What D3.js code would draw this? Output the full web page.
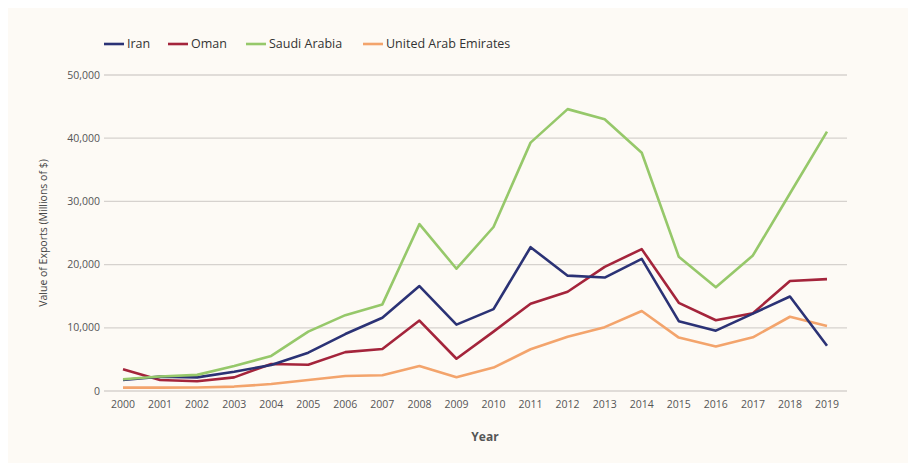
<!DOCTYPE html>
<html>
<head>
<meta charset="utf-8">
<script src="https://cdn.jsdelivr.net/npm/d3@7"></script>
<style>
  body { margin: 0; background: #ffffff; }
  svg { display: block; font-family: "Open Sans", "Lato", sans-serif; }
</style>
</head>
<body>
<svg id="chart" width="908" height="463"></svg>
<script>
var years = d3.range(2000, 2020);
var yTicks = [0, 10000, 20000, 30000, 40000, 50000];

var iran = [1750, 2270, 2160, 3060, 4110, 6060, 9010, 11600, 16600, 10500,
            12950, 22750, 18250, 17950, 20900, 11050, 9550, 12250, 14950, 7150];
var oman = [3430, 1750, 1550, 2160, 4270, 4160, 6150, 6650, 11150, 5100,
            9400, 13800, 15700, 19650, 22450, 13950, 11200, 12300, 17400, 17700];
var saudi = [1850, 2300, 2550, 3950, 5550, 9400, 12000, 13700, 26400, 19350,
             25950, 39300, 44600, 43000, 37700, 21250, 16400, 21450, 31250, 41050];
var uae = [530, 540, 560, 700, 1100, 1750, 2380, 2500, 3950, 2180,
           3700, 6600, 8600, 10100, 12650, 8450, 7050, 8500, 11750, 10300];

var series = [
  { name: "Iran", values: iran, color: "#2b3275" },
  { name: "Oman", values: oman, color: "#a4243b" },
  { name: "Saudi Arabia", values: saudi, color: "#96c86a" },
  { name: "United Arab Emirates", values: uae, color: "#f3a46c" }
];

var svg = d3.select("#chart");

// cream panel
svg.append("rect")
  .attr("x", 8).attr("y", 8)
  .attr("width", 900).attr("height", 455)
  .attr("fill", "#fdfaf5");

var x = d3.scaleLinear().domain([2000, 2019]).range([123, 827]);
var y = d3.scaleLinear().domain([0, 50000]).range([391, 75]);

// grid + y labels
var grid = svg.append("g");
grid.selectAll("line")
  .data(yTicks)
  .enter().append("line")
  .attr("x1", 104).attr("x2", 847)
  .attr("y1", function(d) { return y(d); })
  .attr("y2", function(d) { return y(d); })
  .attr("stroke", "#d6d2ce")
  .attr("stroke-width", 1.3);

grid.selectAll("text")
  .data(yTicks)
  .enter().append("text")
  .attr("x", 100)
  .attr("y", function(d) { return y(d); })
  .attr("dy", "0.35em")
  .attr("text-anchor", "end")
  .attr("font-size", 10.5)
  .attr("fill", "#555")
  .text(function(d) { return d3.format(",")(d); });

// x labels
svg.append("g").selectAll("text")
  .data(years)
  .enter().append("text")
  .attr("x", function(d) { return x(d); })
  .attr("y", 408)
  .attr("text-anchor", "middle")
  .attr("font-size", 10.5)
  .attr("fill", "#555")
  .text(function(d) { return d; });

// axis titles
svg.append("text")
  .attr("x", 485).attr("y", 441)
  .attr("text-anchor", "middle")
  .attr("font-size", 12)
  .attr("font-weight", "bold")
  .attr("fill", "#555")
  .text("Year");

svg.append("text")
  .attr("transform", "translate(47,233) rotate(-90)")
  .attr("text-anchor", "middle")
  .attr("font-size", 10.5)
  .attr("fill", "#444")
  .text("Value of Exports (Millions of $)");

// lines
var line = d3.line()
  .x(function(d, i) { return x(years[i]); })
  .y(function(d) { return y(d); });

svg.append("g").selectAll("path")
  .data([series[3], series[1], series[0], series[2]])
  .enter().append("path")
  .attr("d", function(s) { return line(s.values); })
  .attr("fill", "none")
  .attr("stroke", function(s) { return s.color; })
  .attr("stroke-width", 2.6)
  .attr("stroke-linejoin", "round");

// legend
var legendX = [104, 168, 246, 363];
var legend = svg.append("g").selectAll("g")
  .data(series)
  .enter().append("g")
  .attr("transform", function(d, i) { return "translate(" + legendX[i] + ",44)"; });

legend.append("line")
  .attr("x1", 0).attr("x2", 20)
  .attr("stroke", function(d) { return d.color; })
  .attr("stroke-width", 2.6);

legend.append("text")
  .attr("x", 23)
  .attr("dy", "0.35em")
  .attr("font-size", 12.5)
  .attr("fill", "#333")
  .text(function(d) { return d.name; });
</script>
</body>
</html>
